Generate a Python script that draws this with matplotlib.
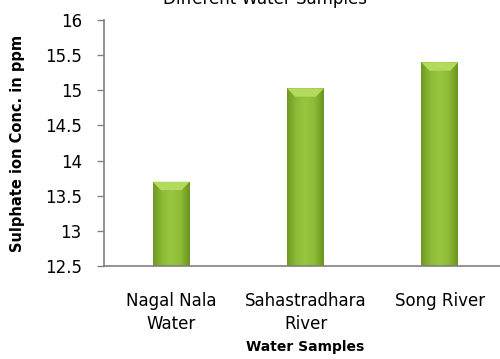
import numpy as np
import matplotlib
matplotlib.use("Agg")
import matplotlib.pyplot as plt
from matplotlib.patches import Polygon
from matplotlib.colors import LinearSegmentedColormap

categories = ["Nagal Nala\nWater", "Sahastradhara\nRiver", "Song River"]
sulphate_ppm = [13.7, 15.03, 15.4]
y_ticks = [12.5, 13, 13.5, 14, 14.5, 15, 15.5, 16]
y_tick_labels = ["12.5", "13", "13.5", "14", "14.5", "15", "15.5", "16"]

plt.rcParams["font.family"] = ["DejaVu Sans"]

fig = plt.figure(figsize=(5.0, 3.59), dpi=100)
ax = fig.add_axes([0.208, 0.259, 0.806, 0.685])

ymin, ymax = 12.5, 16
bar_w = 0.275
x = np.arange(len(categories))

# horizontal shading across each bar: darker edges, lighter middle
shade = LinearSegmentedColormap.from_list(
    "bar", ["#6f9a22", "#8dbb36", "#98c640", "#8dbb36", "#6b951f"])
grad = np.linspace(0, 1, 64).reshape(1, -1)

bars = ax.bar(x, [v - ymin for v in sulphate_ppm], bottom=ymin, width=bar_w,
              color="none", edgecolor="none")
for rect, v in zip(bars, sulphate_ppm):
    x0 = rect.get_x()
    x1 = x0 + rect.get_width()
    im = ax.imshow(grad, cmap=shade, aspect="auto",
                   extent=(x0, x1, ymin, v), zorder=2)
    im.set_clip_path(rect)
    # bevelled top face
    bev_h = 0.12
    bev_w = 0.06
    ax.add_patch(Polygon([(x0, v), (x1, v), (x1 - bev_w, v - bev_h),
                          (x0 + bev_w, v - bev_h)],
                         closed=True, facecolor="#b3da5c", edgecolor="none",
                         zorder=3))

ax.set_xlim(-0.5, 2.5)
ax.set_ylim(ymin, ymax)
ax.set_yticks(y_ticks)
ax.set_yticklabels(y_tick_labels, fontsize=12)
ax.set_xticks(x)
ax.set_xticklabels(categories, fontsize=12, linespacing=1.3)
ax.tick_params(axis="x", length=0, pad=19)
ax.tick_params(axis="y", length=5, width=1, color="#808080", pad=11)

for s in ["top", "right"]:
    ax.spines[s].set_visible(False)
for s in ["left", "bottom"]:
    ax.spines[s].set_color("#808080")
    ax.spines[s].set_linewidth(1.2)

ax.set_ylabel("Sulphate ion Conc. in ppm", fontsize=10.5, fontweight="bold",
              labelpad=14)
ax.set_xlabel("Water Samples", fontsize=10, fontweight="bold", labelpad=5)
fig.text(0.53, 0.989, "Different Water Samples", ha="center", va="baseline",
         fontsize=12)

fig.savefig("out.png", dpi=100)
